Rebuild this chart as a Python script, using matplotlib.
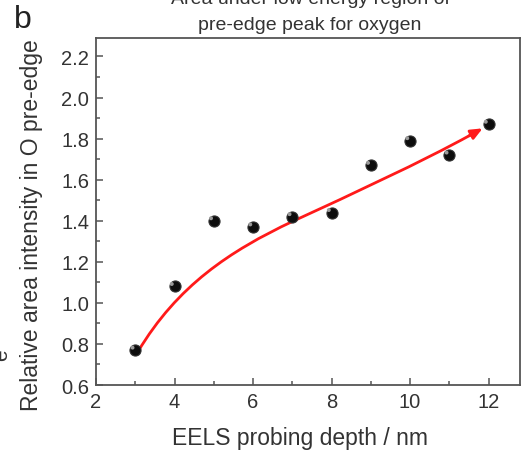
import matplotlib
matplotlib.use("Agg")
import matplotlib.pyplot as plt
from matplotlib.ticker import MultipleLocator
from matplotlib.path import Path
from matplotlib.patches import PathPatch
import numpy as np

plt.rcParams['font.family'] = ['Liberation Sans', 'DejaVu Sans']

# Measured points
depth_nm = [3, 4, 5, 6, 7, 8, 9, 10, 11, 12]
rel_area = [0.77, 1.08, 1.40, 1.37, 1.42, 1.44, 1.67, 1.79, 1.72, 1.87]

# Hand-drawn trend guide: two cubic Bezier segments (anchor, ctrl, ctrl, anchor, ctrl, ctrl, anchor)
guide_x = [3.07, 4.07, 5.41, 7.01, 8.61, 10.25, 11.85]
guide_y = [0.763, 1.083, 1.253, 1.397, 1.538, 1.682, 1.85]

title_lines = ['Area under low energy region of', 'pre-edge peak for oxygen']

fig = plt.figure(figsize=(5.21, 4.52), dpi=100)
ax = fig.add_axes([0.1843, 0.146, 0.8137, 0.7677])

spine_col = '#555555'
for s in ax.spines.values():
    s.set_color(spine_col)
    s.set_linewidth(1.3)

red = '#ff1a1a'
verts = list(zip(guide_x, guide_y))
codes = [Path.MOVETO] + [Path.CURVE4] * (len(verts) - 1)
# stop the line a little before the tip so the arrow head stays sharp
tip = np.array(verts[-1])
tangent = tip - np.array(verts[-2])
tangent = tangent / np.hypot(*tangent)
head_base = tip - 0.30 * tangent
verts_line = verts[:-1] + [tuple(head_base)]
ax.add_patch(PathPatch(Path(verts_line, codes), facecolor='none', edgecolor=red, lw=2.0,
                       capstyle='round', zorder=2))
ax.annotate('', xy=tuple(tip), xytext=tuple(head_base - 0.05 * tangent),
            arrowprops=dict(arrowstyle='-|>,head_length=0.7,head_width=0.3',
                            color=red, lw=2.0, shrinkA=0, shrinkB=0), zorder=2)

ax.scatter(depth_nm, rel_area, s=64, color='#0d0d0d', edgecolor='#333333', lw=0.8, zorder=3)
ax.scatter(np.array(depth_nm) - 0.07, np.array(rel_area) + 0.012, s=8, color='#9a9a9a',
           edgecolor='none', zorder=4)

ax.set_xlim(2, 12.8)
ax.set_ylim(0.6, 2.29)
ax.xaxis.set_major_locator(MultipleLocator(2))
ax.xaxis.set_minor_locator(MultipleLocator(1))
ax.yaxis.set_minor_locator(MultipleLocator(0.1))
ax.set_yticks(np.arange(0.6, 2.21, 0.2))
ax.set_yticklabels([f"{v:.1f}" for v in np.arange(0.6, 2.21, 0.2)])
ax.tick_params(which='both', direction='in', color=spine_col, width=1.1,
               labelsize=14.5, labelcolor='#333333', top=False, right=False)
ax.tick_params(which='major', length=5, pad=5)
ax.tick_params(which='minor', length=3)

ax.set_xlabel('EELS probing depth / nm', fontsize=16.5, color='#333333')
ax.xaxis.set_label_coords(0.482, -0.119)
ax.set_ylabel('Relative area intensity in O pre-edge', fontsize=16.5, color='#333333')
ax.yaxis.set_label_coords(-0.126, 0.463)

fig.text(0.595, 1 - 4 / 452, title_lines[0], ha='center', va='baseline',
         fontsize=14, color='#333333')
fig.text(0.595, 1 - 30 / 452, title_lines[1], ha='center', va='baseline',
         fontsize=14, color='#333333')
fig.text(0.027, 0.955, 'b', fontsize=23, color='#222222', ha='left', va='center')
fig.text(-0.016, 0.215, 'e', fontsize=15, color='#333333', rotation=90, ha='left', va='center')

fig.savefig('out.png', dpi=100)
